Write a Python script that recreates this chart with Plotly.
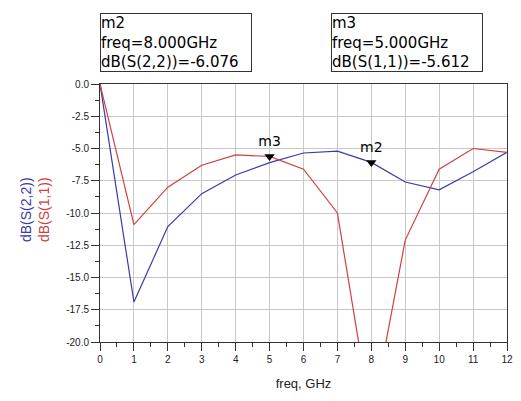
import plotly.graph_objects as go

freq = [0, 1, 2, 3, 4, 5, 6, 7, 8, 9, 10, 11, 12]
s22_db = [0.0, -16.9, -11.05, -8.5, -7.05, -6.1, -5.35, -5.2, -6.076, -7.6, -8.2, -6.8, -5.3]
s11_db = [0.0, -10.9, -8.0, -6.3, -5.5, -5.612, -6.6, -10.0, -26.0, -12.1, -6.6, -5.0, -5.3]

x_ticks = list(range(0, 13))
y_ticks = [0.0, -2.5, -5.0, -7.5, -10.0, -12.5, -15.0, -17.5, -20.0]

m2_idx = 8  # on S22
m3_idx = 5  # on S11

BLUE = "#3a3aa8"
RED = "#d04040"
FONT = "Liberation Sans, Arial, sans-serif"
WIDE = "DejaVu Sans, sans-serif"

fig = go.Figure()
fig.add_trace(go.Scatter(x=freq, y=s22_db, mode="lines", line=dict(color=BLUE, width=1.2), showlegend=False))
fig.add_trace(go.Scatter(x=freq, y=s11_db, mode="lines", line=dict(color=RED, width=1.2), showlegend=False))

# markers
fig.add_trace(go.Scatter(
    x=[freq[m3_idx], freq[m2_idx]], y=[s11_db[m3_idx], s22_db[m2_idx]],
    mode="markers+text", marker=dict(symbol="triangle-down", size=9, color="black"),
    text=["m3", "m2"], textposition="top center",
    textfont=dict(family=WIDE, size=14, color="black"), showlegend=False, cliponaxis=False))

fig.update_layout(
    width=521, height=401,
    margin=dict(l=100, r=8, t=84, b=59),
    paper_bgcolor="white", plot_bgcolor="white",
    font=dict(family=FONT, size=10, color="#222"),
    xaxis=dict(range=[0, 12], tickvals=x_ticks, ticktext=[str(v) for v in x_ticks],
               showgrid=True, gridcolor="#c8c8c8", gridwidth=1,
               showline=True, linecolor="#333", linewidth=1, mirror=True,
               ticks="outside", ticklen=8, tickcolor="#333", zeroline=False,
               minor=dict(dtick=0.5, ticks="outside", ticklen=4, tickcolor="#333", showgrid=False),
               title=dict(text="freq, GHz", font=dict(size=13, family=FONT, color="#222"), standoff=14)),
    yaxis=dict(range=[-20, 0], tickvals=y_ticks, ticktext=[f"{v:.1f}" for v in y_ticks],
               showgrid=True, gridcolor="#c8c8c8", gridwidth=1,
               showline=True, linecolor="#333", linewidth=1, mirror=True,
               ticks="outside", ticklen=8, tickcolor="#333", zeroline=False,
               minor=dict(dtick=1.25, ticks="outside", ticklen=4, tickcolor="#333", showgrid=False)),
)

fig.add_annotation(
    xref="paper", yref="paper", x=-0.16, y=0.515, xanchor="center", yanchor="middle",
    textangle=-90, showarrow=False,
    text=f"<span style='color:{BLUE}'>dB(S(2,2))</span><br><span style='color:{RED}'>dB(S(1,1))</span>",
    font=dict(family=FONT, size=14), align="center")

box_font = dict(family=WIDE, size=15, color="black")
fig.add_annotation(
    xref="paper", yref="paper", x=0.0, y=1.275, xanchor="left", yanchor="top", showarrow=False,
    align="left", bordercolor="#333", borderwidth=1, borderpad=0, bgcolor="white", font=box_font,
    width=150,
    text=f"m2<br>freq={freq[m2_idx]:.3f}GHz<br>dB(S(2,2))={s22_db[m2_idx]:.3f}")
fig.add_annotation(
    xref="paper", yref="paper", x=0.567, y=1.275, xanchor="left", yanchor="top", showarrow=False,
    align="left", bordercolor="#333", borderwidth=1, borderpad=0, bgcolor="white", font=box_font,
    width=150,
    text=f"m3<br>freq={freq[m3_idx]:.3f}GHz<br>dB(S(1,1))={s11_db[m3_idx]:.3f}")

fig.write_html("out.html")
